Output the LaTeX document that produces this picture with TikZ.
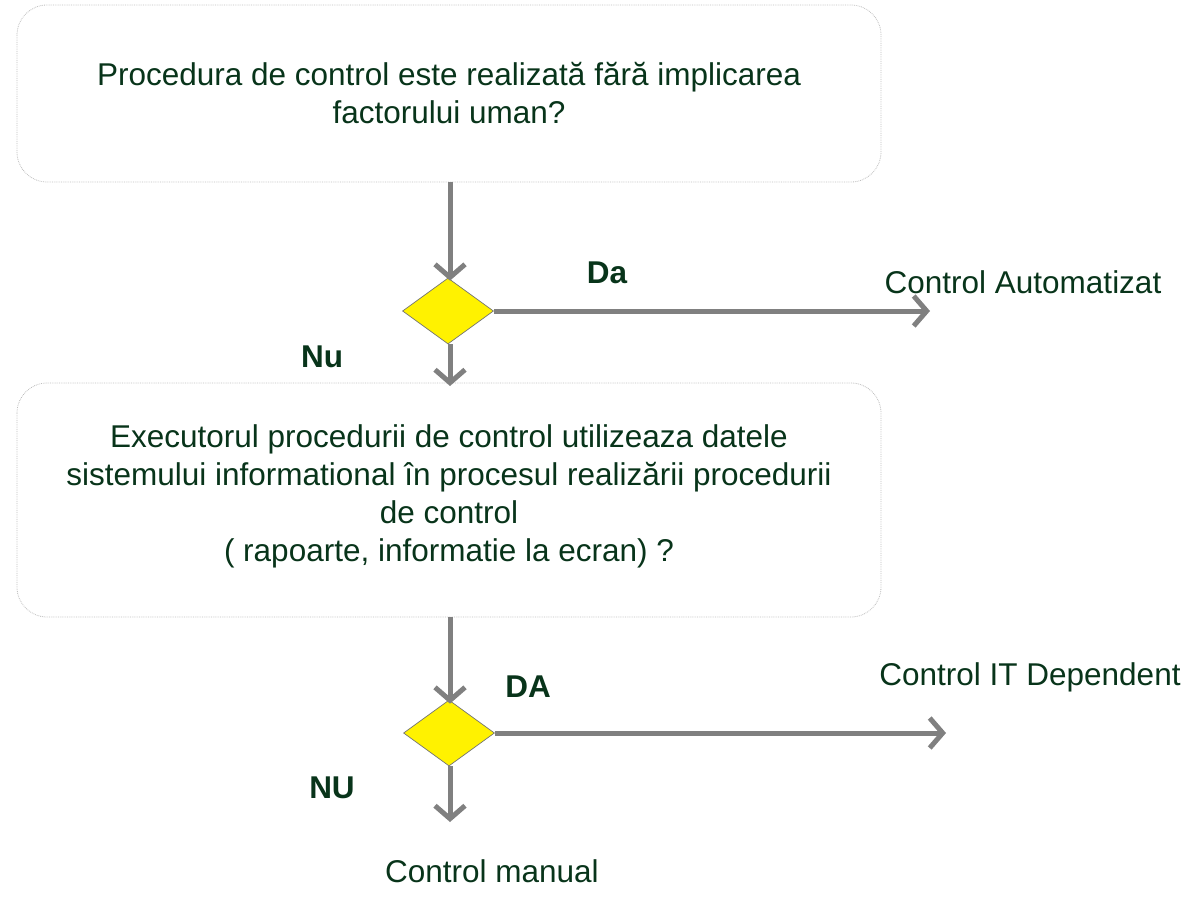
\documentclass[tikz,border=0pt]{standalone}
\usepackage{fontspec}
\setmainfont{Liberation Sans}
\usetikzlibrary{shapes.geometric,arrows.meta}
\definecolor{txtgreen}{RGB}{8,52,26}
\definecolor{arrgray}{RGB}{128,128,128}
\definecolor{boxline}{RGB}{190,190,190}
\tikzset{
  qbox/.style={draw=boxline, line width=0.8pt, densely dotted, rounded corners=30pt, fill=white},
  qtext/.style={text=txtgreen, align=center, font=\fontsize{31.5}{38}\selectfont, inner sep=0pt},
  lbl/.style={text=txtgreen, font=\fontsize{31.5}{38}\selectfont\bfseries, inner sep=0pt},
  res/.style={text=txtgreen, font=\fontsize{31.5}{38}\selectfont, inner sep=0pt},
  dec/.style={shape=diamond, draw=black!55, line width=0.7pt, fill=yellow, minimum width=91pt, minimum height=66pt, inner sep=0pt},
  flow/.style={draw=arrgray, line width=5pt, -{Straight Barb[length=13pt, width=30pt, line width=5pt]}},
}
\begin{document}
\begin{tikzpicture}[x=1pt, y=-1pt]
\useasboundingbox (0,0) rectangle (1191,912);
% boxes
\draw[qbox] (17,5) rectangle (881,182);
\node[qtext] (q1) at (449,93) {Procedura de control este realizată fără implicarea\\factorului uman?};
\coordinate (b1s) at (450,182);
\draw[qbox] (17,383) rectangle (881,617);
\node[qtext] (q2) at (449,496) {Executorul procedurii de control utilizeaza datele\\sistemului informational în procesul realizării procedurii\\de control\\( rapoarte, informatie la ecran) ?};
\coordinate (b2n) at (450,383);
\coordinate (b2s) at (450,617);
% decisions
\node[dec] (d1) at (448,311) {};
\node[dec] (d2) at (449,733) {};
% ends
\coordinate (e1) at (930,311);
\coordinate (e2) at (946,733);
\coordinate (e3) at (450,822);
% arrows
\draw[flow] (b1s) -- ([yshift=-3pt]d1.north -| b1s);
\draw[flow] (d1.east) -- (e1);
\draw[flow] (d1.south -| b1s) -- ([yshift=-3pt]b2n);
\draw[flow] (b2s) -- ([yshift=-4pt]d2.north -| b2s);
\draw[flow] (d2.east) -- (e2);
\draw[flow] (d2.south -| b2s) -- (e3);
% labels
\node[lbl] (da1) at (607,273) {Da};
\node[res] (r1) at (1023,282) {Control Automatizat};
\node[lbl] (nu1) at (322,357) {Nu};
\node[lbl] (da2) at (528,687) {DA};
\node[res] (r2) at (1030,677) {Control IT Dependent};
\node[lbl] (nu2) at (332,788) {NU};
\node[res] (r3) at (492,871) {Control manual};
\end{tikzpicture}
\end{document}
